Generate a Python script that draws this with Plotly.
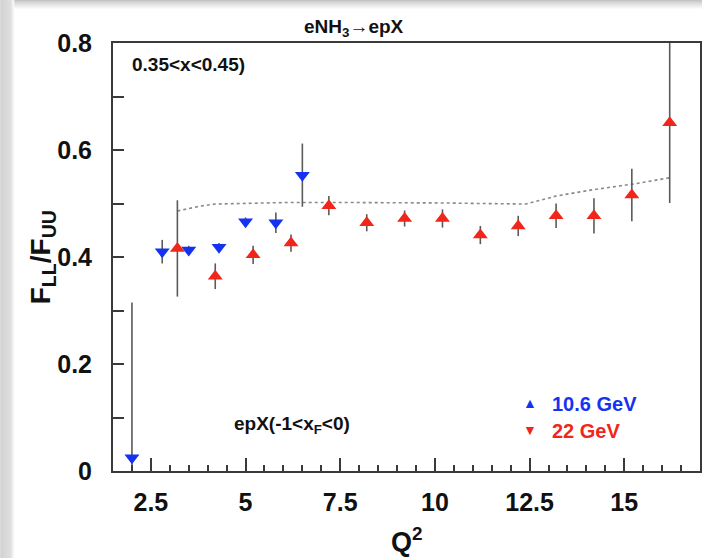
import plotly.graph_objects as go

# F_LL/F_UU versus Q^2, eNH3 -> epX, 0.35 < x < 0.45, target fragmentation (-1 < x_F < 0)
q2_106 = [2.0, 2.8, 3.5, 4.3, 5.0, 5.8, 6.5]
ratio_106 = [0.025, 0.410, 0.413, 0.418, 0.466, 0.464, 0.553]
err_106 = [0.290, 0.022, 0.008, 0.008, 0.008, 0.019, 0.059]

q2_22 = [3.2, 4.2, 5.2, 6.2, 7.2, 8.2, 9.2, 10.2, 11.2, 12.2, 13.2, 14.2, 15.2, 16.2]
ratio_22 = [0.416, 0.364, 0.404, 0.426, 0.496, 0.464, 0.472, 0.472, 0.441, 0.458,
            0.477, 0.477, 0.516, 0.651]
err_22 = [0.090, 0.024, 0.017, 0.016, 0.018, 0.016, 0.015, 0.017, 0.017, 0.019,
          0.023, 0.033, 0.049, 0.150]

# model expectation (dotted curve)
q2_model = [3.2, 3.8, 4.2, 5.2, 6.2, 7.2, 8.2, 9.2, 10.2, 11.2, 12.4, 13.2, 14.2, 15.2, 16.2]
ratio_model = [0.486, 0.495, 0.499, 0.501, 0.502, 0.502, 0.502, 0.502, 0.501, 0.500,
               0.499, 0.514, 0.526, 0.536, 0.548]

W, H = 704, 558
L, R, T, B = 113, 702, 43, 471
X0, X1 = 1.5, 17.0
Y0, Y1 = 0.0, 0.8

BLUE = "#1532f2"
RED = "#f2251b"
INK = "#111111"
FONT = "Liberation Sans, Arial, sans-serif"


def px(xp):
    return (xp - L) / (R - L)


def py(yp):
    return (B - yp) / (B - T)


fig = go.Figure()

fig.add_trace(go.Scatter(
    x=q2_model, y=ratio_model, mode="lines",
    line=dict(color="#8a8a8a", width=1.6, dash="dot"),
    hoverinfo="skip", showlegend=False,
))

fig.add_trace(go.Scatter(
    x=q2_106, y=ratio_106, mode="markers", name="10.6 GeV",
    marker=dict(symbol="triangle-down", size=13, color=BLUE),
    error_y=dict(type="data", array=err_106, color="#5a5a5a", thickness=1.6, width=0),
    showlegend=False,
))

fig.add_trace(go.Scatter(
    x=q2_22, y=ratio_22, mode="markers", name="22 GeV",
    marker=dict(symbol="triangle-up", size=13, color=RED),
    error_y=dict(type="data", array=err_22, color="#5a5a5a", thickness=1.6, width=0),
    showlegend=False,
))

# soft card shadow round the page edges
shapes = []


def mix(c0, c1, t):
    return "rgb({},{},{})".format(*[round(a + (b - a) * t) for a, b in zip(c0, c1)])


dark, light, white = (196, 196, 196), (214, 214, 214), (255, 255, 255)
for i in range(14):
    col = mix(dark, light, i / 10) if i < 11 else mix(light, white, (i - 10) / 4)
    shapes.append(dict(type="rect", xref="paper", yref="paper", layer="above",
                       x0=px(i), x1=px(i + 1), y0=py(H), y1=py(0),
                       fillcolor=col, line=dict(width=0)))
for j in range(10):
    col = mix(dark, white, (j / 9) ** 0.8)
    shapes.append(dict(type="rect", xref="paper", yref="paper", layer="above",
                       x0=px(14), x1=px(W), y0=py(j + 1), y1=py(j),
                       fillcolor=col, line=dict(width=0)))
fig.update_layout(shapes=shapes)


def label(text, x, y, size, color=INK, xanchor="center", angle=0):
    return dict(text=text, x=px(x), y=py(y), xref="paper", yref="paper",
                xanchor=xanchor, yanchor="middle", textangle=angle, showarrow=False,
                font=dict(size=size, family=FONT, weight="bold", color=color))


ann = [
    label("eNH<sub>3</sub>→epX", 355, 28, 19),
    label("0.35&lt;x&lt;0.45)", 189, 64, 19),
    label("epX(-1&lt;x<sub>F</sub>&lt;0)", 293, 425, 19),
    label("F<sub>LL</sub>/F<sub>UU</sub>", 42, 257, 28, angle=-90),
    label("Q<sup>2</sup>", 408, 540, 27),
    # legend
    dict(text="▲", x=px(531), y=py(402), xref="paper", yref="paper", showarrow=False,
         xanchor="center", yanchor="middle", font=dict(size=14, color=BLUE)),
    dict(text="▼", x=px(531), y=py(429), xref="paper", yref="paper", showarrow=False,
         xanchor="center", yanchor="middle", font=dict(size=14, color=RED)),
    label("10.6 GeV", 551, 404, 20, color=BLUE, xanchor="left"),
    label("22 GeV", 551, 431, 20, color=RED, xanchor="left"),
]
fig.update_layout(annotations=ann)

axis_common = dict(showline=True, linecolor="#3a3a3a", linewidth=2, mirror=True,
                   ticks="inside", tickcolor="#3a3a3a", tickwidth=1.5,
                   showgrid=False, zeroline=False,
                   tickfont=dict(size=25, family=FONT, weight="bold", color=INK))

fig.update_xaxes(range=[X0, X1], tick0=0, dtick=2.5, ticklen=13, ticklabelstandoff=8,
                 minor=dict(tick0=0, dtick=0.5, ticklen=6, ticks="inside", tickcolor="#3a3a3a"),
                 **axis_common)
fig.update_yaxes(range=[Y0, Y1], tick0=0, dtick=0.2, ticklen=11, ticklabelstandoff=14,
                 minor=dict(tick0=0, dtick=0.1, ticklen=11, ticks="inside", tickcolor="#3a3a3a"),
                 **axis_common)

fig.update_layout(
    width=W, height=H,
    margin=dict(l=L, r=W - R, t=T, b=H - B),
    paper_bgcolor="white", plot_bgcolor="white",
    showlegend=False,
)

fig.write_html("out.html")
